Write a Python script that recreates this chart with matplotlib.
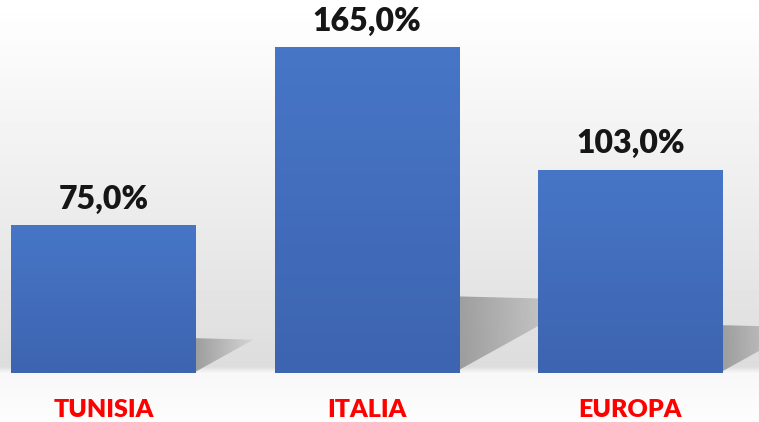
import numpy as np
import matplotlib.pyplot as plt
from matplotlib.patches import Polygon
from matplotlib.colors import LinearSegmentedColormap

categories = ['TUNISIA', 'ITALIA', 'EUROPA']
values = [75.0, 165.0, 103.0]
labels = ['75,0%', '165,0%', '103,0%']

fig = plt.figure(figsize=(7.59, 4.22), dpi=100)

# background: light grey gradient above the floor, near white below
bg = fig.add_axes([0, 0, 1, 1])
bg.set_axis_off()
yy = np.linspace(0, 1, 422)  # 0 = top
shade = np.interp(yy, [0, 0.1, 0.5, 0.87, 0.885, 1.0],
                  [1.0, 0.985, 0.925, 0.865, 0.97, 0.99])
bg.imshow(np.tile(shade[:, None], (1, 10)), cmap='gray', vmin=0, vmax=1,
          aspect='auto', extent=[0, 1, 0, 1], origin='upper')
bg.set_xlim(0, 1)
bg.set_ylim(0, 1)

ax = fig.add_axes([0, 49 / 422, 1, 373 / 422])
ax.patch.set_alpha(0)
for s in ax.spines.values():
    s.set_visible(False)
ax.set_xticks([])
ax.set_yticks([])

x = np.arange(len(categories))
width = 185 / 263.5

# shadows behind bars
shadow_cmap = LinearSegmentedColormap.from_list('sh', ['#8e8e8e', '#d4d4d4'])
for xi, v in zip(x, values):
    xr = xi + width / 2
    L = 0.0029 * v
    poly = Polygon([(xr, 0.01 * v), (xr, 0.235 * v), (xr + L, 0.225 * v)],
                   closed=True, facecolor='none', edgecolor='none')
    ax.add_patch(poly)
    g = np.linspace(0, 1, 100)[None, :]
    im = ax.imshow(g, cmap=shadow_cmap, aspect='auto',
                   extent=[xr, xr + L, 0, 0.24 * v], zorder=1, alpha=0.8)
    im.set_clip_path(poly)

bars = ax.bar(x, values, width=width, color='#4472c4', zorder=2)
bar_cmap = LinearSegmentedColormap.from_list('b', ['#3d64b0', '#4776c7'])
for b in bars:
    g = np.linspace(0, 1, 100)[:, None]
    im = ax.imshow(g, cmap=bar_cmap, aspect='auto', origin='lower',
                   extent=[b.get_x(), b.get_x() + b.get_width(), 0, b.get_height()],
                   zorder=3)
    im.set_clip_path(b)

ax.set_xlim(-103.5 / 263.5, (759 - 103.5) / 263.5)
ax.set_ylim(0, 373 / 1.975)

for xi, v, lab in zip(x, values, labels):
    ax.annotate(lab, (xi, v), xytext=(0, 8), textcoords='offset points',
                ha='center', va='bottom', fontsize=23, fontweight='heavy',
                family=['Lato', 'DejaVu Sans'], color='#161616', zorder=5)

for xi, c in zip(x, categories):
    ax.annotate(c, (xi, 0), xytext=(0, -26.5), textcoords='offset points',
                ha='center', va='center', fontsize=18, fontweight='heavy',
                family=['Lato', 'DejaVu Sans'], color='#ff0000',
                annotation_clip=False)

fig.savefig('out.png', dpi=100)
